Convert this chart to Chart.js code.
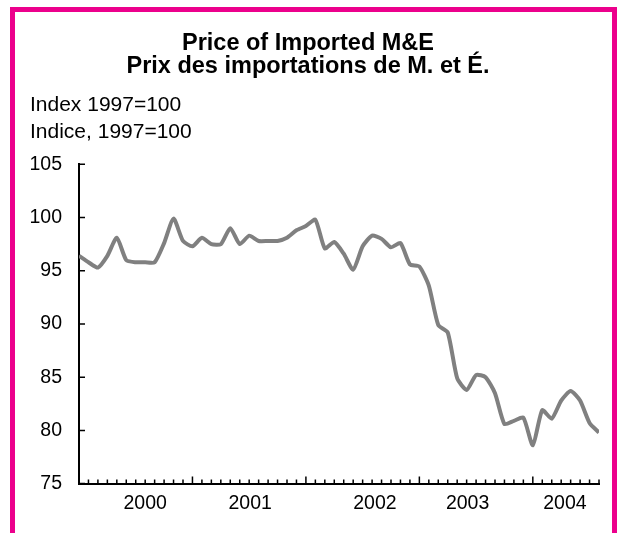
<!DOCTYPE html>
<html>
<head>
<meta charset="utf-8">
<script src="https://cdn.jsdelivr.net/npm/chart.js@4.4.1/dist/chart.umd.min.js"></script>
<style>
  html, body { margin: 0; padding: 0; background: #fff; }
  body { width: 618px; height: 533px; position: relative; overflow: hidden; }
  .frame {
    position: absolute; left: 10px; top: 7px; width: 607px; height: 600px;
    box-sizing: border-box; border: 5px solid #ec008c; border-bottom: none;
  }
  .title {
    position: absolute; left: 0; top: 31px; width: 616px; text-align: center;
    font-family: Arial, "Liberation Sans", sans-serif; font-weight: bold;
    font-size: 23.5px; line-height: 23.4px; color: #000;
  }
  canvas { position: absolute; left: 0; top: 0; }
</style>
</head>
<body>
<div class="frame"></div>
<canvas id="chart" width="618" height="533"></canvas>
<div class="title">Price of Imported M&amp;E<br>Prix des importations de M. et É.</div>
<script>
// monthly, Jan 2000 .. Aug 2004
const months = [
  '2000-01', '2000-02', '2000-03', '2000-04', '2000-05', '2000-06', '2000-07', '2000-08', '2000-09', '2000-10', '2000-11', '2000-12',
  '2001-01', '2001-02', '2001-03', '2001-04', '2001-05', '2001-06', '2001-07', '2001-08', '2001-09', '2001-10', '2001-11', '2001-12',
  '2002-01', '2002-02', '2002-03', '2002-04', '2002-05', '2002-06', '2002-07', '2002-08', '2002-09', '2002-10', '2002-11', '2002-12',
  '2003-01', '2003-02', '2003-03', '2003-04', '2003-05', '2003-06', '2003-07', '2003-08', '2003-09', '2003-10', '2003-11', '2003-12',
  '2004-01', '2004-02', '2004-03', '2004-04', '2004-05', '2004-06', '2004-07', '2004-08',
]
const priceIndex = [
  96.4, 95.8, 95.3, 96.4, 98.1, 96.0, 95.8, 95.8, 95.8, 97.6, 99.9, 97.8,
  97.3, 98.1, 97.5, 97.5, 99.0, 97.5, 98.3, 97.8, 97.8, 97.8, 98.1, 98.8,
  99.2, 99.8, 97.1, 97.7, 96.6, 95.1, 97.3, 98.3, 98.0, 97.2, 97.6, 95.6,
  95.4, 93.6, 89.9, 89.2, 84.9, 83.8, 85.2, 85.0, 83.5, 80.6, 80.9, 81.2,
  78.6, 81.9, 81.1, 82.8, 83.7, 82.8, 80.7, 79.8,
]
const yearLabels = ['2000', '2001', '2002', '2003', '2004']
const yearLabelMonth = [7, 18.1, 31.3, 41.1, 51.4]
const yTicks = [75, 80, 85, 90, 95, 100, 105]

const FONT = 'Arial, "Liberation Sans", sans-serif'

// tick marks drawn inside the plot, like the original
const innerTicks = {
  id: 'innerTicks',
  afterDatasetsDraw(chart) {
    const { ctx, scales: { x, y } } = chart
    ctx.save()
    ctx.strokeStyle = '#000'
    ctx.lineWidth = 1.5
    ctx.beginPath()
    for (let m = 1; m < months.length; m++) {
      const px = x.getPixelForValue(m)
      const len = m % 12 === 0 ? 7 : 4
      ctx.moveTo(px, y.bottom)
      ctx.lineTo(px, y.bottom - len)
    }
    yTicks.forEach((v) => {
      const py = y.getPixelForValue(v)
      ctx.moveTo(x.left, py)
      ctx.lineTo(x.left + 6, py)
    })
    ctx.stroke()
    ctx.restore()
  },
}

const config = {
  type: 'line',
  data: {
    datasets: [
      {
        data: priceIndex.map((v, i) => ({ x: i, y: v })),
        borderColor: '#808080',
        borderWidth: 4,
        pointRadius: 0,
        tension: 0.2,
        fill: false,
      },
    ],
  },
  options: {
    responsive: false,
    animation: false,
    layout: { padding: { left: 30, right: 19, top: 92, bottom: 10 } },
    plugins: {
      legend: { display: false },
      tooltip: { enabled: false },
      title: {
        display: true,
        text: ['Index 1997=100', 'Indice, 1997=100'],
        align: 'start',
        color: '#000',
        font: { family: FONT, size: 21, weight: 'normal', lineHeight: 1.27 },
        padding: { top: 0, bottom: 19 },
      },
    },
    scales: {
      x: {
        type: 'linear',
        min: 0,
        max: months.length - 1,
        grid: { display: false, drawTicks: false },
        border: { display: true, color: '#000', width: 2 },
        afterBuildTicks: (axis) => {
          axis.ticks = yearLabelMonth.map((v) => ({ value: v }))
        },
        ticks: {
          autoSkip: false,
          maxRotation: 0,
          padding: 8,
          color: '#000',
          font: { family: FONT, size: 19.5 },
          callback: (value, index) => yearLabels[index],
        },
      },
      y: {
        min: 75,
        max: 105,
        grid: { display: false, drawTicks: false },
        border: { display: true, color: '#000', width: 2 },
        afterFit: (axis) => {
          axis.width = 49
        },
        ticks: {
          stepSize: 5,
          padding: 17,
          color: '#000',
          font: { family: FONT, size: 19.5 },
        },
      },
    },
  },
  plugins: [innerTicks],
}

new Chart(document.getElementById('chart'), config)
</script>
</body>
</html>
